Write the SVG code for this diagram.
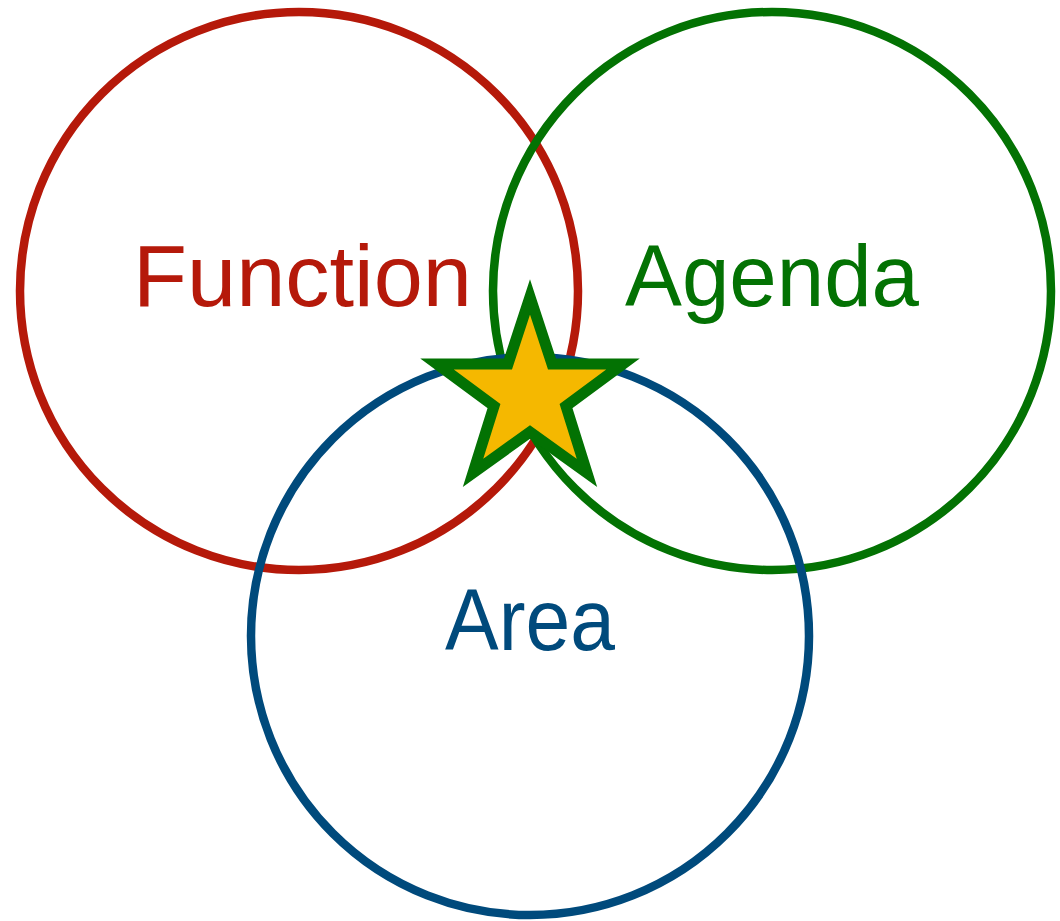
<svg xmlns="http://www.w3.org/2000/svg" width="1060" height="921" viewBox="0 0 1060 921">
<style>
.ring{fill:none;stroke-width:8.5}
.lbl{font-family:"Liberation Sans","Noto Sans",sans-serif;font-size:88px}
</style>
<rect width="1060" height="921" fill="#ffffff"/>
<g id="function">
<circle class="ring" cx="299" cy="291" r="279" stroke="#B5190A"/>
<text class="lbl" x="133" y="306" fill="#B5190A" textLength="339" lengthAdjust="spacingAndGlyphs">Function</text>
</g>
<g id="agenda">
<circle class="ring" cx="772" cy="291" r="279" stroke="#037203"/>
<text class="lbl" x="625" y="306" fill="#037203" textLength="294" lengthAdjust="spacingAndGlyphs">Agenda</text>
</g>
<g id="area">
<circle class="ring" cx="530" cy="636" r="279" stroke="#004A7C"/>
<text class="lbl" x="445" y="650" fill="#004A7C" textLength="170" lengthAdjust="spacingAndGlyphs">Area</text>
</g>
<g id="star">
<polygon points="530,297 552,364 623,364 566,406 587,473 530,432 473,473 494,406 437,364 508,364" fill="#F5B800" stroke="#037203" stroke-width="11" stroke-miterlimit="10"/>
</g>
<g id="connectors"/>
</svg>
